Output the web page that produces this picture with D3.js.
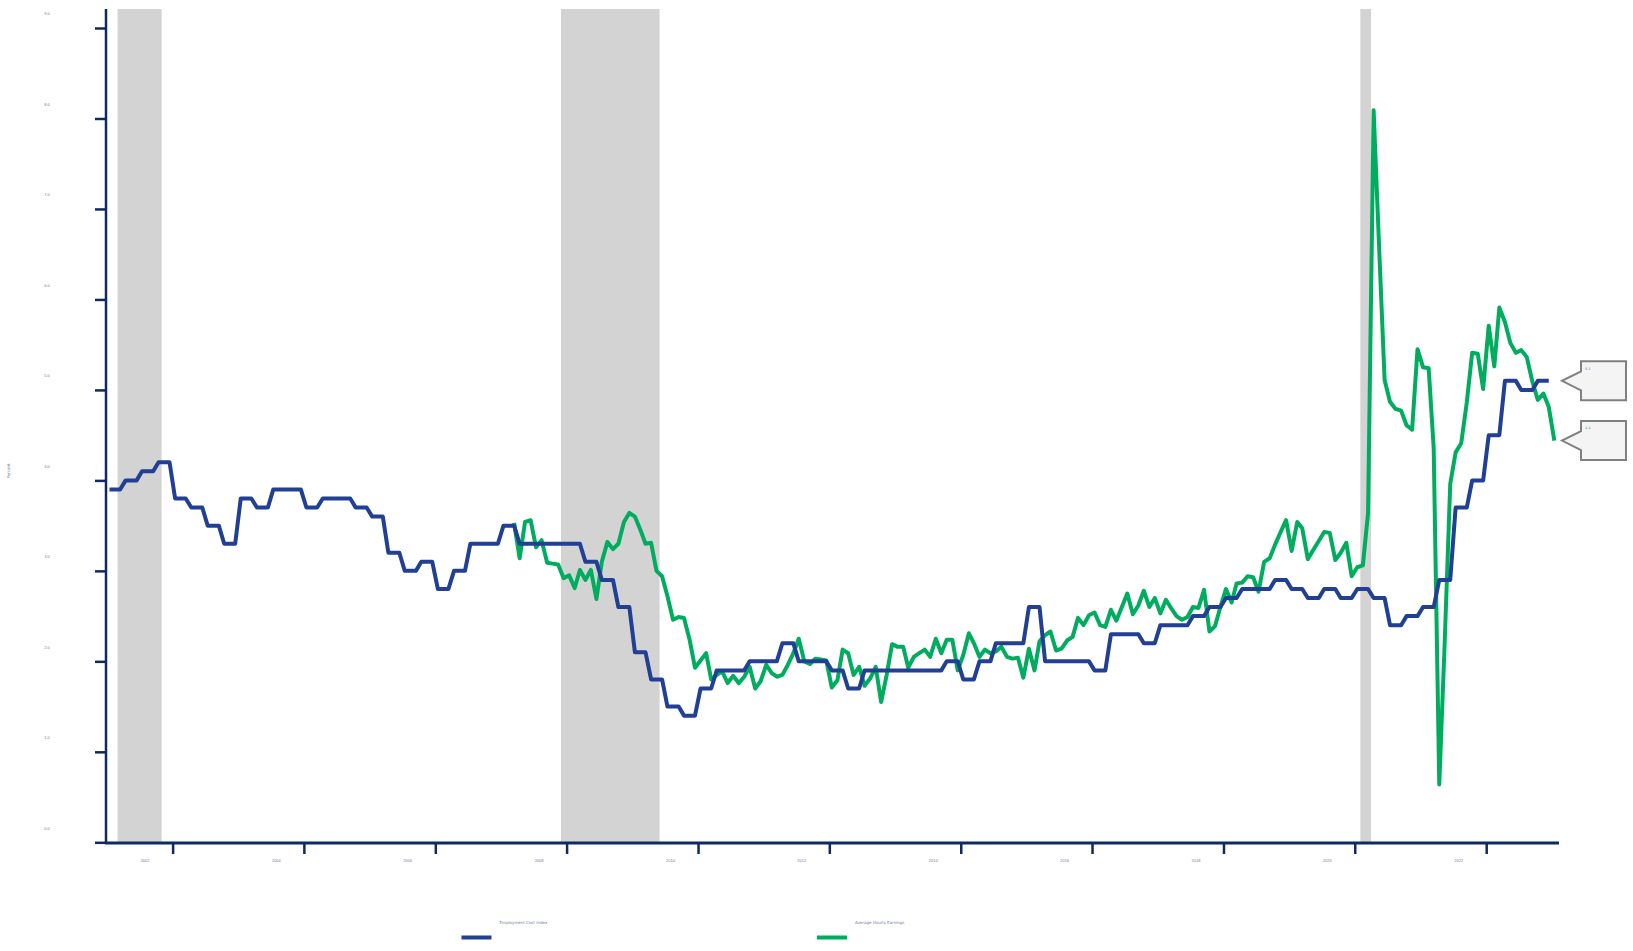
<!DOCTYPE html>
<html>
<head>
<meta charset="utf-8">
<script src="https://cdn.jsdelivr.net/npm/d3@7"></script>
<style>
  body { margin: 0; background: #fff; }
  svg { display: block; font-family: "DejaVu Sans", sans-serif; }
</style>
</head>
<body>
<svg width="1633" height="951"></svg>
<script>
// ECI wages & salaries, y/y %, quarterly from Q1 2001
const eciQuarterly = [
  3.9, 4.0, 4.1, 4.2,  3.8, 3.7, 3.5, 3.3,  3.8, 3.7, 3.9, 3.9,
  3.7, 3.8, 3.8, 3.7,  3.6, 3.2, 3.0, 3.1,  2.8, 3.0, 3.3, 3.3,
  3.5, 3.3, 3.3, 3.3,  3.3, 3.1, 2.9, 2.6,  2.1, 1.8, 1.5, 1.4,
  1.7, 1.9, 1.9, 2.0,  2.0, 2.2, 2.0, 2.0,  1.9, 1.7, 1.9, 1.9,
  1.9, 1.9, 1.9, 2.0,  1.8, 2.0, 2.2, 2.2,  2.6, 2.0, 2.0, 2.0,
  1.9, 2.3, 2.3, 2.2,  2.4, 2.4, 2.5, 2.6,  2.7, 2.8, 2.8, 2.9,
  2.8, 2.7, 2.8, 2.7,  2.8, 2.7, 2.4, 2.5,  2.6, 2.9, 3.7, 4.0,
  4.5, 5.1, 5.0, 5.1
];

// Average hourly earnings, y/y %, monthly from Mar 2007
const aheMonthly = [
  3.53, 3.14, 3.54, 3.56, 3.26, 3.34, 3.09, 3.08, 3.07, 2.92,
  2.95, 2.81, 3.01, 2.90, 3.01, 2.69, 3.10, 3.32, 3.24, 3.30,
  3.54, 3.64, 3.60, 3.45, 3.30, 3.31, 3.00, 2.94, 2.72, 2.46,
  2.49, 2.48, 2.24, 1.93, 2.01, 2.09, 1.80, 1.85, 1.89, 1.76,
  1.84, 1.76, 1.83, 1.94, 1.70, 1.78, 1.96, 1.87, 1.83, 1.85,
  1.96, 2.09, 2.25, 2.00, 1.97, 2.03, 2.02, 2.01, 1.71, 1.79,
  2.13, 2.09, 1.85, 1.94, 1.73, 1.81, 1.94, 1.55, 1.85, 2.19,
  2.16, 2.16, 1.93, 2.05, 2.09, 2.13, 2.05, 2.25, 2.09, 2.24,
  2.24, 1.90, 2.07, 2.31, 2.20, 2.05, 2.13, 2.09, 2.11, 2.16,
  2.05, 2.03, 2.04, 1.82, 2.14, 1.90, 2.22, 2.29, 2.33, 2.12,
  2.14, 2.23, 2.27, 2.48, 2.40, 2.51, 2.54, 2.40, 2.38, 2.57,
  2.45, 2.60, 2.75, 2.52, 2.62, 2.78, 2.60, 2.70, 2.53, 2.68,
  2.59, 2.50, 2.46, 2.49, 2.60, 2.59, 2.79, 2.33, 2.39, 2.60,
  2.80, 2.65, 2.86, 2.87, 2.94, 2.93, 2.77, 3.10, 3.14, 3.29,
  3.43, 3.56, 3.22, 3.54, 3.47, 3.13, 3.23, 3.33, 3.43, 3.42,
  3.12, 3.20, 3.31, 2.94, 3.04, 3.06, 3.64, 8.09, 6.60, 5.11,
  4.87, 4.79, 4.77, 4.61, 4.56, 5.45, 5.25, 5.24, 4.36, 0.64,
  2.20, 3.96, 4.31, 4.41, 4.86, 5.41, 5.40, 5.01, 5.71, 5.26,
  5.91, 5.75, 5.52, 5.41, 5.44, 5.36, 5.09, 4.89, 4.96, 4.81,
  4.44
];

const recessions = [
  ["2001-03-01", "2001-11-01"],
  ["2007-12-01", "2009-06-01"],
  ["2020-02-01", "2020-04-01"]
];

const yTicks = [0, 1, 2, 3, 4, 5, 6, 7, 8, 9];
const xTickYears = [2002, 2004, 2006, 2008, 2010, 2012, 2014, 2016, 2018, 2020, 2022];
const seriesNames = ["Employment Cost Index", "Average Hourly Earnings"];
const colors = ["#213f94", "#00ad5f"];
const axisColor = "#0f2a5f";
const labelColor = "#6f7aa3";

const svg = d3.select("svg");

const x = d3.scaleTime()
  .domain([new Date(2002, 0, 1), new Date(2022, 0, 1)])
  .range([172.6, 1486.2]);
const y = d3.scaleLinear().domain([0, 9]).range([842.3, 28]);

const plotLeft = 106, plotRight = 1559, plotTop = 9, plotBottom = 843;

// monthly points (plotted mid-month)
const eci = [];
eciQuarterly.forEach((v, i) => {
  for (let j = 0; j < 3; j++) eci.push({date: new Date(2001, i * 3 + j, 15), v: v});
});
const ahe = aheMonthly.map((v, i) => ({date: new Date(2007, 2 + i, 15), v: v}));

// recession shading
svg.append("g").selectAll("rect")
  .data(recessions)
  .join("rect")
  .attr("x", d => x(new Date(d[0])))
  .attr("width", d => x(new Date(d[1])) - x(new Date(d[0])))
  .attr("y", plotTop)
  .attr("height", plotBottom - plotTop)
  .attr("fill", "#d3d3d3");

// y axis
const yAxis = svg.append("g")
  .attr("transform", `translate(${plotLeft},0)`)
  .call(d3.axisLeft(y).tickValues(yTicks).tickFormat(d3.format(".1f")).tickSize(11).tickSizeOuter(0));
yAxis.select(".domain").remove();
yAxis.selectAll(".tick line").attr("stroke", axisColor).attr("stroke-width", 2.5);
yAxis.selectAll(".tick text")
  .attr("x", -59).attr("y", -14.5).attr("dy", "0.35em")
  .attr("text-anchor", "middle")
  .attr("fill", labelColor)
  .style("font-size", "4px");

// x axis
const xAxis = svg.append("g")
  .attr("transform", `translate(0,${plotBottom})`)
  .call(d3.axisBottom(x)
    .tickValues(xTickYears.map(yr => new Date(yr, 0, 1)))
    .tickFormat(d3.timeFormat("%Y"))
    .tickSize(11).tickSizeOuter(0));
xAxis.select(".domain").remove();
xAxis.selectAll(".tick line").attr("stroke", axisColor).attr("stroke-width", 2.5);
xAxis.selectAll(".tick text")
  .attr("x", -28).attr("y", 17.7).attr("dy", "0.35em")
  .attr("fill", labelColor)
  .style("font-size", "4px");

svg.append("line")
  .attr("x1", plotLeft).attr("x2", plotLeft)
  .attr("y1", plotTop).attr("y2", plotBottom + 1)
  .attr("stroke", axisColor).attr("stroke-width", 2.5);
svg.append("line")
  .attr("x1", plotLeft - 1).attr("x2", plotRight)
  .attr("y1", plotBottom).attr("y2", plotBottom)
  .attr("stroke", axisColor).attr("stroke-width", 3);

svg.append("text")
  .attr("transform", "translate(9,471) rotate(-90)")
  .attr("text-anchor", "middle")
  .attr("dy", "0.35em")
  .attr("fill", labelColor)
  .style("font-size", "4px")
  .text("Percent");

// series lines (AHE first so the ECI line sits on top)
const line = d3.line().x(d => x(d.date)).y(d => y(d.v));
[[ahe, 1], [eci, 0]].forEach(([series, i]) => {
  svg.append("path")
    .datum(series)
    .attr("d", line)
    .attr("fill", "none")
    .attr("stroke", colors[i])
    .attr("stroke-width", 4)
    .attr("stroke-linejoin", "round");
});

// callouts with last values
const lastVals = [eci[eci.length - 1].v, ahe[ahe.length - 1].v];
lastVals.forEach((v, i) => {
  const cy = y(v);
  const bx = 1581, bw = 45, bh = 39, tip = 1562;
  const top = cy - bh / 2;
  const p = d3.path();
  p.moveTo(bx, top);
  p.lineTo(bx + bw, top);
  p.lineTo(bx + bw, top + bh);
  p.lineTo(bx, top + bh);
  p.lineTo(bx, cy + 9.5);
  p.lineTo(tip, cy);
  p.lineTo(bx, cy - 9.5);
  p.closePath();
  svg.append("path")
    .attr("d", p.toString())
    .attr("fill", "#f4f4f4")
    .attr("stroke", "#808080")
    .attr("stroke-width", 2);
  svg.append("text")
    .attr("x", bx + 4).attr("y", top + 7)
    .attr("dy", "0.35em")
    .attr("fill", colors[i])
    .attr("opacity", 0.7)
    .style("font-size", "3.5px")
    .text(d3.format(".1f")(v));
});

// legend
const legendX = [461.5, 817];
seriesNames.forEach((name, i) => {
  const g = svg.append("g");
  g.append("line")
    .attr("x1", legendX[i]).attr("x2", legendX[i] + 30)
    .attr("y1", 937.5).attr("y2", 937.5)
    .attr("stroke", colors[i]).attr("stroke-width", 4);
  g.append("text")
    .attr("x", legendX[i] + 38)
    .attr("y", 923)
    .attr("dy", "0.35em")
    .attr("fill", labelColor)
    .style("font-size", "4px")
    .text(name);
});
</script>
</body>
</html>
